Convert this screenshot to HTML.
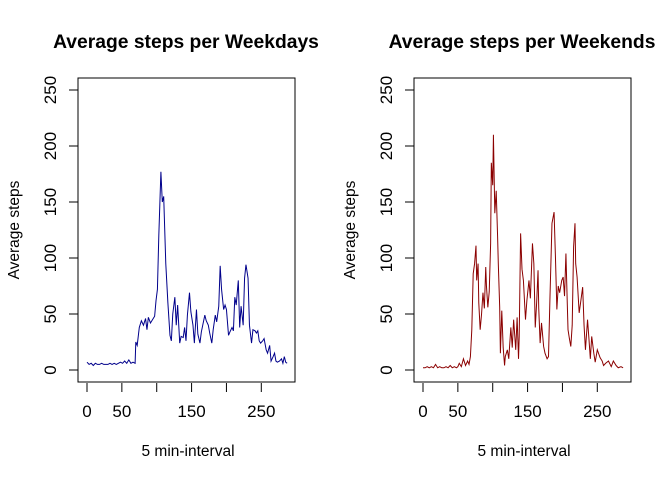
<!DOCTYPE html>
<html><head><meta charset="utf-8"><style>
body{margin:0;background:#fff;}
svg{display:block;font-family:"Liberation Sans",Arial,sans-serif;}
</style></head><body>
<svg id="chart" width="672" height="480" xmlns="http://www.w3.org/2000/svg"></svg>
<script>
// Weekday series (interval index, average steps)
const wdIntervals=[0,3,6,9,12,15,18,21,24,27,30,33,36,39,42,45,48,51,54,57,60,63,66,69,70,72,75,78,81,84,86,88,91,94,97,99,101,103,106,108,110,113,116,119,121,123,126,128,130,133,135,138,140,142,144,147,149,152,154,157,159,162,164,166,169,171,174,176,179,181,184,186,189,191,193,196,198,200,203,205,208,210,212,214,217,219,221,224,226,228,231,233,236,238,241,243,245,247,249,252,254,257,259,262,264,267,269,271,273,276,279,281,283,285,287];
const wdSteps=[7,5,6,4,6,5,5,6,5,5,5,6,5,6,5,6,7,6,8,6,9,6,7,6,25,22,38,44,40,46,36,47,42,45,48,62,72,120,177,150,155,95,60,31,26,50,65,40,58,24,30,29,38,26,49,69,52,40,24,54,32,24,34,40,49,44,40,33,24,36,49,43,57,93,72,54,58,54,31,34,38,35,65,58,80,38,57,40,82,94,82,40,24,36,35,33,35,26,24,26,28,18,15,22,8,12,15,8,7,8,10,6,12,7,6];
// Weekend series
const weIntervals=[0,3,6,9,12,15,18,21,24,27,30,33,36,39,42,45,48,50,52,55,58,61,64,66,68,70,72,74,76,77,79,80,82,84,86,88,90,91,93,95,97,98,100,101,103,105,107,108,110,111,113,115,117,118,121,123,126,128,130,133,135,137,138,140,142,144,147,149,152,154,157,159,161,163,165,166,168,170,173,175,178,180,182,185,188,190,192,194,196,199,201,203,205,207,208,210,212,214,216,218,219,221,224,226,229,231,233,236,238,240,242,245,247,250,254,257,259,262,266,270,273,277,280,284,287];
const weSteps=[2,2,3,2,3,2,5,2,3,2,2,3,2,4,2,3,2,3,6,3,10,4,8,5,12,36,86,95,111,80,95,60,36,50,69,55,92,75,56,70,113,185,165,210,140,160,119,95,56,15,53,20,4,12,18,10,38,20,45,18,47,10,30,122,90,80,45,62,80,64,113,95,38,60,89,55,24,42,21,15,10,12,62,131,141,100,54,75,69,80,83,66,104,58,36,28,21,40,110,131,95,83,51,60,74,40,18,45,28,10,30,15,7,18,11,8,4,6,8,3,8,4,2,3,2];

const xTicks=[0,50,100,150,200,250];
const xTickLabels=["0","50","","150","","250"];
const yTicks=[0,50,100,150,200,250];
const yTickLabels=["0","50","100","150","200","250"];

const NS="http://www.w3.org/2000/svg";
const svg=document.getElementById('chart');
function mk(tag,attrs,parent){const e=document.createElementNS(NS,tag);for(const k in attrs)e.setAttribute(k,attrs[k]);(parent||svg).appendChild(e);return e;}

function panel(off,title,xs,ys,color,key){
  const g=mk('g',{});
  
  
  const sx=v=>87+off+v*0.6972;
  const sy=v=>370-v*1.12;
  const box=mk('rect',{x:78+off,y:78,width:217,height:304,fill:'none',stroke:'#000','stroke-width':1},g);
  
  
  const t=mk('text',{x:186+off,y:48,'text-anchor':'middle','font-size':19.3,'font-weight':'bold'},g);
  t.textContent=title;
  
  
  xTicks.forEach((v,i)=>{
    const l=mk('line',{x1:sx(v),x2:sx(v),y1:383,y2:392,stroke:'#000'},g);
    
    
    if(xTickLabels[i]){
      const tx=mk('text',{x:sx(v),y:417,'text-anchor':'middle','font-size':17},g);
      tx.textContent=xTickLabels[i];
      
      
    }
  });
  yTicks.forEach((v,i)=>{
    const l=mk('line',{x1:69+off,x2:78+off,y1:sy(v),y2:sy(v),stroke:'#000'},g);
    
    
    const tx=mk('text',{x:0,y:0,'text-anchor':'middle','font-size':17,transform:`translate(${56+off},${sy(v)}) rotate(-90)`},g);
    tx.textContent=yTickLabels[i];
    
    
  });
  const xl=mk('text',{x:188+off,y:456,'text-anchor':'middle','font-size':15.5},g);
  xl.textContent='5 min-interval';
  
  
  const yl=mk('text',{x:0,y:0,'text-anchor':'middle','font-size':15.5,transform:`translate(${19+off},230) rotate(-90)`},g);
  yl.textContent='Average steps';
  
  
  const d=xs.map((x,i)=>(i?'L':'M')+sx(x).toFixed(2)+','+sy(ys[i]).toFixed(2)).join('');
  const p=mk('path',{d:d,fill:'none',stroke:color,'stroke-width':1},g);
  
  
}
panel(0,'Average steps per Weekdays',wdIntervals,wdSteps,'#00008B','weekdays');
panel(336,'Average steps per Weekends',weIntervals,weSteps,'#8B0000','weekends');
</script>
</body></html>
